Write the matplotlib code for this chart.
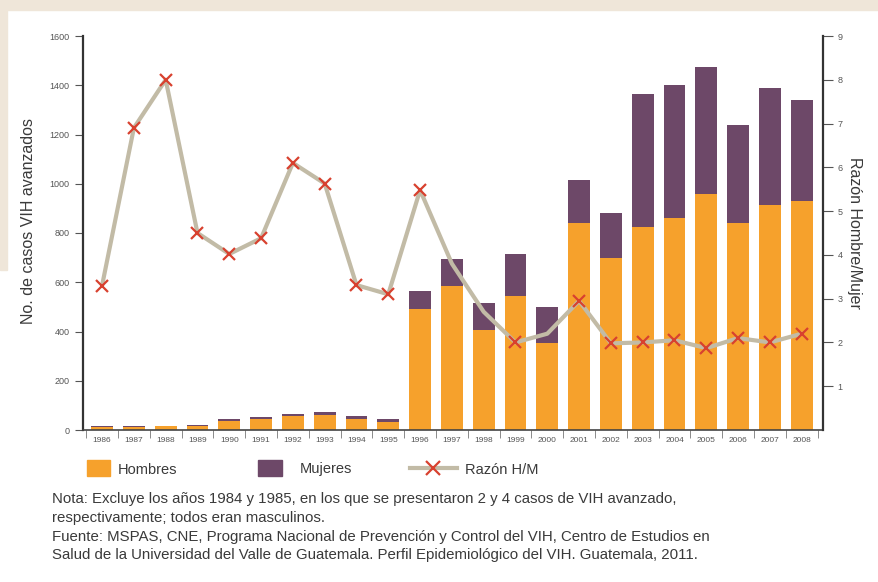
import matplotlib
matplotlib.use("Agg")
import matplotlib.pyplot as plt
from matplotlib.patches import Rectangle
from matplotlib.lines import Line2D
import numpy as np

years = [str(y) for y in range(1986, 2009)]
hombres = [14, 14, 16, 18, 36, 43, 56, 62, 44, 34,
           490, 585, 405, 545, 355, 840, 700, 825, 860, 960, 840, 915, 930]
mujeres = [4, 2, 2, 4, 9, 10, 9, 11, 13, 11,
           75, 110, 110, 170, 145, 175, 180, 540, 540, 515, 400, 475, 410]
razon = [3.3, 6.9, 8.0, 4.5, 4.02, 4.38, 6.1, 5.63, 3.31, 3.1,
         5.48, 3.8, 2.7, 2.0, 2.2, 2.95, 1.98, 2.0, 2.05, 1.87, 2.1, 2.0, 2.2]
left_ticks = [0, 200, 400, 600, 800, 1000, 1200, 1400, 1600]
right_ticks = [1, 2, 3, 4, 5, 6, 7, 8, 9]

orange = "#F6A12C"
purple = "#6D4868"
line_col = "#C2BBA6"
red = "#D8412F"
text_col = "#3a3a3a"

plt.rcParams['font.family'] = ['Liberation Sans', 'DejaVu Sans']

W, H = 879, 582
fig = plt.figure(figsize=(W / 100, H / 100), dpi=100)
fig.patch.set_facecolor("white")
# beige paper strips around the white panel
fig.patches.append(Rectangle((0, 1 - 10 / H), 1, 10 / H, transform=fig.transFigure,
                             color="#EFE6D9", zorder=-5))
fig.patches.append(Rectangle((0, 1 - 270 / H), 7 / W, 260 / H, transform=fig.transFigure,
                             color="#EFE6D9", zorder=-5))

ax = fig.add_axes([83 / W, 1 - 430 / H, (823 - 83) / W, (430 - 36) / H])
x = np.arange(len(years))
ax.bar(x, hombres, width=0.69, color=orange, zorder=2)
ax.bar(x, mujeres, width=0.69, bottom=hombres, color=purple, zorder=2)
ax.set_xlim(-0.6, 22.67)
ax.set_ylim(0, 1600)
ax.set_yticks(left_ticks)
ax.tick_params(axis="y", labelsize=6.5, colors="#555555", length=6, width=0.8)
ax.set_ylabel("No. de casos VIH avanzados", fontsize=11.5, color=text_col, labelpad=6)
ax.yaxis.set_label_coords(-0.064, 0.53)

# year labels centred under bars, ticks between bars
ax.set_xticks(np.append(x - 0.5, x[-1] + 0.5))
ax.set_xticklabels([])
ax.tick_params(axis="x", which="major", direction="out", length=6, width=0.6, colors="#777777")
ax.set_xticks(x, minor=True)
ax.set_xticklabels(years, minor=True)
ax.tick_params(axis="x", which="minor", length=0, labelsize=6, labelcolor="#555555", pad=5)

for side in ["top", "right"]:
    ax.spines[side].set_visible(False)
ax.spines["left"].set_linewidth(1.6)
ax.spines["left"].set_color("#333333")
ax.spines["bottom"].set_linewidth(1.2)
ax.spines["bottom"].set_color("#444444")

ax2 = ax.twinx()
ax2.set_ylim(0, 9)
ax2.set_yticks(right_ticks)
ax2.tick_params(axis="y", labelsize=6.5, colors="#555555", length=7, width=0.8)
ax2.set_ylabel("Razón Hombre/Mujer", fontsize=11.5, color=text_col, rotation=-90, labelpad=14)
for side in ["top", "left", "bottom"]:
    ax2.spines[side].set_visible(False)
ax2.spines["right"].set_linewidth(1.6)
ax2.spines["right"].set_color("#333333")
ax2.plot(x, razon, color=line_col, lw=3, zorder=3, solid_capstyle="round")
ax2.plot(x, razon, linestyle="none", marker="x", color=red, ms=9, mew=1.6, zorder=4,
         markevery=[i for i in range(len(years)) if i not in (11, 12, 14)])

# legend drawn by hand so each entry sits where it does in the original
ly = 1 - 468 / H
fig.patches.append(Rectangle((87 / W, ly - 8 / H), 23 / W, 16 / H, transform=fig.transFigure,
                             color=orange))
fig.text(118 / W, ly, "Hombres", fontsize=10.5, color=text_col, va="center_baseline")
fig.patches.append(Rectangle((258 / W, ly - 8 / H), 24 / W, 16 / H, transform=fig.transFigure,
                             color=purple))
fig.text(300 / W, ly, "Mujeres", fontsize=10.5, color=text_col, va="center_baseline")
fig.lines.append(Line2D([410 / W, 457 / W], [ly, ly], transform=fig.transFigure,
                        color=line_col, lw=3))
fig.lines.append(Line2D([433 / W], [ly], transform=fig.transFigure, linestyle="none",
                        marker="x", color=red, ms=10, mew=1.6))
fig.text(465 / W, ly, "Razón H/M", fontsize=10.5, color=text_col, va="center_baseline")

notes = [
    "Nota: Excluye los años 1984 y 1985, en los que se presentaron 2 y 4 casos de VIH avanzado,",
    "respectivamente; todos eran masculinos.",
    "Fuente: MSPAS, CNE, Programa Nacional de Prevención y Control del VIH, Centro de Estudios en",
    "Salud de la Universidad del Valle de Guatemala. Perfil Epidemiológico del VIH. Guatemala, 2011.",
]
for i, line in enumerate(notes):
    fig.text(52 / W, 1 - (498 + i * 18.5) / H, line, fontsize=10.8, color=text_col,
             va="center_baseline", ha="left")

fig.savefig("out.png", dpi=100, facecolor=fig.get_facecolor())
